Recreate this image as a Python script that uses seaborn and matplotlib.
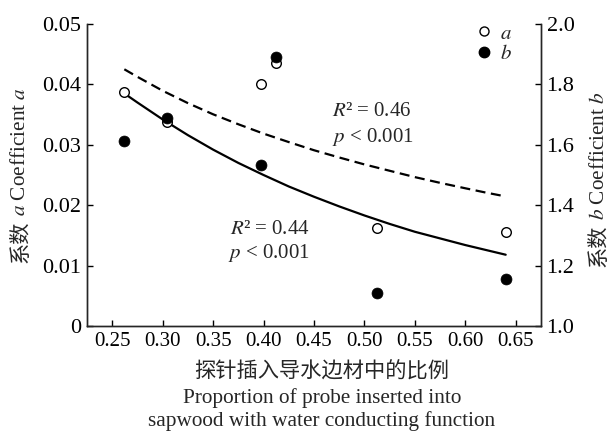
import matplotlib
matplotlib.use("Agg")
import matplotlib.pyplot as plt
from matplotlib.lines import Line2D
import numpy as np
import pandas as pd
import seaborn as sns

# measured points (proportion of probe in conducting sapwood)
proportion = [0.262, 0.304, 0.397, 0.412, 0.512, 0.640]
coef_a = [0.0387, 0.0337, 0.0400, 0.0435, 0.0163, 0.0155]
coef_b = [1.613, 1.689, 1.534, 1.890, 1.109, 1.156]

# fitted curves
fit_x = [0.262, 0.275, 0.30, 0.325, 0.35, 0.375, 0.40, 0.425, 0.45, 0.475,
         0.50, 0.525, 0.55, 0.575, 0.60, 0.62, 0.640]
fit_a = [0.0385, 0.0370, 0.0342, 0.0316, 0.0292, 0.0270, 0.0250, 0.0231, 0.0214, 0.0198,
         0.0183, 0.0169, 0.0156, 0.0145, 0.0134, 0.0126, 0.0118]
fit_b = [1.850, 1.825, 1.779, 1.738, 1.701, 1.668, 1.637, 1.609, 1.582, 1.558,
         1.535, 1.514, 1.493, 1.474, 1.456, 1.442, 1.429]

x_ticks = [0.25, 0.30, 0.35, 0.40, 0.45, 0.50, 0.55, 0.60, 0.65]
x_ticklabels = ["0.25", "0.30", "0.35", "0.40", "0.45", "0.50", "0.55", "0.60", "0.65"]
a_ticks = [0, 0.01, 0.02, 0.03, 0.04, 0.05]
a_ticklabels = ["0", "0.01", "0.02", "0.03", "0.04", "0.05"]
b_ticks = [1.0, 1.2, 1.4, 1.6, 1.8, 2.0]
b_ticklabels = ["1.0", "1.2", "1.4", "1.6", "1.8", "2.0"]

sns.set_style("ticks")
plt.rcParams['font.family'] = ['Liberation Serif', 'Noto Sans CJK SC']
plt.rcParams['mathtext.fontset'] = 'stix'
plt.rcParams['xtick.direction'] = 'in'
plt.rcParams['ytick.direction'] = 'in'
FS = 15
FS_Y = 16
FS_LAB = 15.3
FS_CJK = 15.3

df = pd.DataFrame({'x': proportion, 'a': coef_a, 'b': coef_b})
fit = pd.DataFrame({'x': fit_x, 'a': fit_a, 'b': fit_b})

fig = plt.figure(figsize=(6.11, 4.32), dpi=100)
ax = fig.add_axes([87 / 611, 1 - 326 / 432, 454 / 611, 302 / 432])
ax2 = ax.twinx()

# coefficient a: open circles + solid fit
sns.lineplot(data=fit, x='x', y='a', ax=ax, color='black', lw=1.6, zorder=2)
sns.scatterplot(data=df, x='x', y='a', ax=ax, marker='o', s=48, facecolor='white',
                edgecolor='black', linewidth=1.0, zorder=3)

# coefficient b: filled circles + dashed fit
sns.lineplot(data=fit, x='x', y='b', ax=ax2, color='black', lw=1.6, zorder=2)
ax2.lines[-1].set_dashes((4.5, 2.5))
sns.scatterplot(data=df, x='x', y='b', ax=ax2, marker='o', s=62, color='black',
                edgecolor='black', linewidth=0.5, zorder=3)

ax.set_xlim(0.225, 0.675)
ax.set_ylim(0, 0.05)
ax2.set_ylim(1.0, 2.0)
ax.set_xticks(x_ticks)
ax.set_xticklabels(x_ticklabels, fontsize=FS)
ax.set_yticks(a_ticks)
ax.set_yticklabels(a_ticklabels, fontsize=FS_Y)
ax2.set_yticks(b_ticks)
ax2.set_yticklabels(b_ticklabels, fontsize=FS_Y)

for a_ in (ax, ax2):
    a_.spines['top'].set_visible(False)
    for s in a_.spines.values():
        s.set_linewidth(1.0)
    a_.tick_params(length=4.5, width=1.0, colors='black', pad=4)
    a_.set_ylabel('')
    a_.set_xlabel('')

# x label, three lines
fig.text(322 / 611, 1 - 372 / 432, '探针插入导水边材中的比例', ha='center', va='center',
         fontsize=FS_CJK, family='Noto Sans CJK SC')
fig.text(322 / 611, 1 - 398 / 432, 'Proportion of probe inserted into', ha='center',
         va='center', fontsize=FS_LAB)
fig.text(322 / 611, 1 - 421 / 432, 'sapwood with water conducting function', ha='center',
         va='center', fontsize=FS_LAB)

# y labels: latin part with italic via mathtext, chinese part chained below
lat_l = fig.text(21 / 611, 1 - 216 / 432, r'$a$ Coefficient $a$', rotation=90,
                 ha='center', va='bottom', fontsize=FS_LAB, family='Liberation Serif')
ax.annotate('系数', xy=(0.5, 0), xycoords=lat_l, xytext=(0, -3), textcoords='offset points',
            rotation=90, ha='center', va='top', fontsize=FS_CJK, family='Noto Sans CJK SC')
lat_r = fig.text(599 / 611, 1 - 220 / 432, r'$b$ Coefficient $b$', rotation=90,
                 ha='center', va='bottom', fontsize=FS_LAB, family='Liberation Serif')
ax.annotate('系数', xy=(0.5, 0), xycoords=lat_r, xytext=(0, -3), textcoords='offset points',
            rotation=90, ha='center', va='top', fontsize=FS_CJK, family='Noto Sans CJK SC')

# fit statistics
ax.text(0.468, 0.0355, r'$R$² = 0.46', fontsize=FS, ha='left', va='center')
ax.text(0.468, 0.0313, r'$p$ < 0.001', fontsize=FS, ha='left', va='center')
ax.text(0.367, 0.0159, r'$R$² = 0.44', fontsize=FS, ha='left', va='center')
ax.text(0.365, 0.0121, r'$p$ < 0.001', fontsize=FS, ha='left', va='center')

handles = [Line2D([], [], ls='', marker='o', ms=6.5, mfc='white', mec='black', mew=1.0),
           Line2D([], [], ls='', marker='o', ms=7.5, mfc='black', mec='black')]
ax2.legend(handles, ['$a$', '$b$'], loc='upper left', bbox_to_anchor=(0.855, 1.0),
           frameon=False, fontsize=FS, handlelength=0.8, handletextpad=0.4,
           labelspacing=0.05, borderpad=0, borderaxespad=0)

fig.savefig('out.png', dpi=100)
